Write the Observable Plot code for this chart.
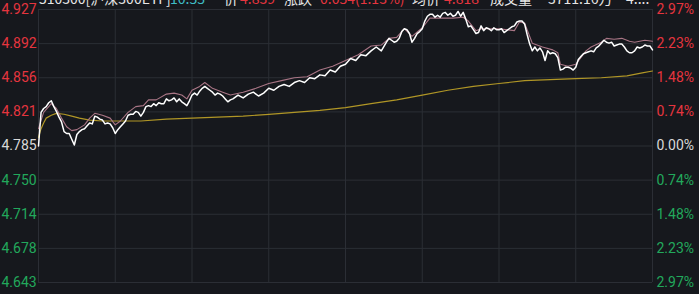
<!DOCTYPE html>
<html>
<head>
<meta charset="utf-8">
<script src="https://cdn.jsdelivr.net/npm/d3@7"></script>
<script src="https://cdn.jsdelivr.net/npm/@observablehq/plot@0.6"></script>
<style>
  html, body { margin: 0; padding: 0; background: #16181d; overflow: hidden; }
  #wrap { position: relative; width: 699px; height: 294px; }
  #header { position: absolute; left: 0; top: -12px; width: 699px; height: 30px; font: 14px "Noto Sans CJK SC", Roboto, sans-serif; color: #e6e6e6; white-space: nowrap; z-index: 2; }
  #header span { position: absolute; top: 0; }
  .r { color: #e5353f; } .t { color: #3fbdc4; }
  svg { display: block; }
</style>
</head>
<body>
<div id="wrap">
  <div id="header"></div>
</div>
<script>
// header pieces
const headerTexts = ["510300[沪深300ETF]", "10:55", "价", "4.839", "涨跌", "0.054(1.13%)", "均价", "4.818", "成交量", "3711.16万", "4...."];
const headerClasses = ["", "t", "", "r", "", "r", "", "r", "", "", ""];
const headerLeft = [39, 170, 224, 240, 284, 320, 412, 444, 490, 548, 626];
const hdr = document.getElementById("header");
headerTexts.forEach((t, i) => {
  const s = document.createElement("span");
  s.textContent = t;
  if (headerClasses[i]) s.className = headerClasses[i];
  s.style.left = headerLeft[i] + "px";
  hdr.appendChild(s);
});

// prev close and tick layout
const prevClose = 4.785;
const tickValues = [4.927, 4.8915, 4.856, 4.8205, 4.785, 4.7495, 4.714, 4.6785, 4.643];
const priceLabels = ["4.927", "4.892", "4.856", "4.821", "4.785", "4.750", "4.714", "4.678", "4.643"];
const pctLabels = ["2.97%", "2.23%", "1.48%", "0.74%", "0.00%", "0.74%", "1.48%", "2.23%", "2.97%"];
const timeGrid = [0, 30, 60, 90, 120, 150, 180, 210, 240];

// price line (minute index since 9:30, trading minutes)
const priceMinutes = [0,1,2,3,4,5,6,7,8,9,10,11,12,13,14,15,16,17,18,19,20,21,22,23,24,25,26,27,28,29,30,31,32,33,34,35,36,37,38,39,40,41,42,43,44,45,46,47,48,49,50,51,52,53,54,55,56,57,58,59,60,61,62,63,64,65,66,67,68,69,70,71,72,73,74,75,76,78,80,82,84,85,86,88,90,92,94,96,98,100,102,104,106,108,110,112,114,116,118,120,122,124,126,128,130,132,134,136,137,138,139,140,141,142,143,144,145,146,147,148,149,150,151,152,153,154,155,156,157,158,159,160,161,162,163,164,165,166,167,168,169,170,171,172,173,174,175,176,177,178,179,180,181,182,183,184,185,186,187,188,189,190,191,192,193,194,195,196,197,198,199,200,201,202,203,204,205,206,207,208,209,210,211,212,213,214,215,216,217,218,219,220,221,222,223,224,225,226,227,228,229,230,231,232,233,234,235,236,237,238,239,240];
const priceValues = [4.785,4.820,4.824,4.826,4.830,4.832,4.826,4.821,4.815,4.810,4.800,4.798,4.798,4.792,4.786,4.797,4.800,4.802,4.803,4.806,4.809,4.808,4.816,4.815,4.813,4.812,4.808,4.809,4.808,4.804,4.798,4.802,4.805,4.808,4.811,4.817,4.818,4.818,4.821,4.820,4.816,4.820,4.826,4.827,4.826,4.829,4.827,4.830,4.829,4.829,4.834,4.832,4.833,4.835,4.831,4.834,4.831,4.829,4.827,4.832,4.838,4.840,4.838,4.842,4.845,4.847,4.845,4.843,4.841,4.838,4.840,4.839,4.837,4.834,4.831,4.833,4.834,4.838,4.835,4.839,4.841,4.839,4.837,4.840,4.845,4.843,4.847,4.849,4.847,4.851,4.853,4.851,4.856,4.855,4.859,4.858,4.864,4.862,4.868,4.870,4.876,4.874,4.880,4.879,4.884,4.888,4.884,4.893,4.897,4.895,4.893,4.894,4.897,4.904,4.907,4.906,4.902,4.893,4.897,4.902,4.904,4.907,4.915,4.920,4.922,4.922,4.919,4.921,4.919,4.923,4.924,4.921,4.923,4.920,4.921,4.925,4.920,4.924,4.917,4.909,4.910,4.906,4.902,4.903,4.910,4.905,4.908,4.907,4.905,4.908,4.906,4.906,4.907,4.903,4.905,4.907,4.909,4.910,4.914,4.915,4.915,4.912,4.901,4.891,4.884,4.888,4.884,4.887,4.883,4.874,4.884,4.881,4.882,4.881,4.877,4.864,4.865,4.867,4.867,4.866,4.864,4.867,4.875,4.878,4.881,4.882,4.883,4.884,4.883,4.887,4.889,4.892,4.895,4.893,4.892,4.893,4.889,4.890,4.891,4.891,4.888,4.884,4.882,4.882,4.884,4.888,4.887,4.888,4.890,4.889,4.889,4.885];

// reference index line (pink)
const indexMinutes = [0,2,5,7,9,11,13,15,18,20,22,25,28,30,32,35,38,41,43,46,50,53,56,58,60,63,65,68,72,75,80,85,90,95,100,105,110,115,120,125,130,134,137,140,143,146,150,153,158,162,166,168,171,173,180,186,188,190,193,197,201,203,204,207,210,212,214,216,220,222,225,228,231,233,237,240];
const indexValues = [4.803,4.820,4.829,4.824,4.814,4.805,4.801,4.802,4.807,4.814,4.819,4.817,4.814,4.807,4.811,4.820,4.826,4.827,4.833,4.833,4.839,4.840,4.838,4.834,4.843,4.847,4.851,4.845,4.841,4.838,4.841,4.845,4.850,4.853,4.856,4.857,4.864,4.868,4.874,4.880,4.889,4.890,4.897,4.898,4.907,4.899,4.908,4.918,4.918,4.918,4.919,4.915,4.905,4.907,4.907,4.905,4.914,4.913,4.892,4.888,4.885,4.882,4.870,4.868,4.870,4.877,4.884,4.888,4.893,4.897,4.896,4.897,4.894,4.893,4.895,4.894];

// average price line (yellow)
const avgMinutes = [0,1,2,3,5,7,10,13,16,20,25,30,35,40,50,60,70,80,90,100,110,120,130,140,150,160,170,180,190,200,210,220,230,236,240];
const avgValues = [4.794,4.803,4.809,4.814,4.817,4.819,4.818,4.816,4.814,4.812,4.811,4.811,4.811,4.811,4.813,4.814,4.815,4.816,4.818,4.820,4.822,4.825,4.829,4.833,4.838,4.843,4.847,4.850,4.853,4.854,4.855,4.856,4.858,4.861,4.863];

const toRows = (ms, vs) => ms.map((m, i) => ({m, v: vs[i]}));
const price = toRows(priceMinutes, priceValues);
const index = toRows(indexMinutes, indexValues);
const avg = toRows(avgMinutes, avgValues);
const ticks = tickValues.map((v, i) => ({
  v, p: priceLabels[i], c: pctLabels[i],
  col: Math.abs(v - prevClose) < 1e-6 ? "#d9d9d9" : v > prevClose ? "#e5353f" : "#22a85c"
}));

const chart = Plot.plot({
  width: 699, height: 294,
  marginLeft: 38, marginRight: 47, marginTop: 9, marginBottom: 12,
  style: {background: "#16181d", fontFamily: "Roboto, sans-serif"},
  x: {domain: [0, 240], axis: null},
  y: {domain: [4.643, 4.927], axis: null},
  marks: [
    Plot.ruleY(tickValues, {stroke: "#2b2e35", strokeWidth: 1}),
    Plot.ruleX(timeGrid, {stroke: "#2b2e35", strokeWidth: 1}),
    Plot.line(avg, {x: "m", y: "v", stroke: "#b09626", strokeWidth: 1.2}),
    Plot.line(index, {x: "m", y: "v", stroke: "#a87585", strokeWidth: 1.1}),
    Plot.line(price, {x: "m", y: "v", stroke: "#ffffff", strokeWidth: 1.5}),
    Plot.text(ticks, {y: "v", text: "p", fill: "col", frameAnchor: "left", textAnchor: "start", dx: -37, fontSize: 14}),
    Plot.text(ticks, {y: "v", text: "c", fill: "col", frameAnchor: "right", textAnchor: "start", dx: 4, fontSize: 14})
  ]
});
document.getElementById("wrap").appendChild(chart);
</script>
</body>
</html>
